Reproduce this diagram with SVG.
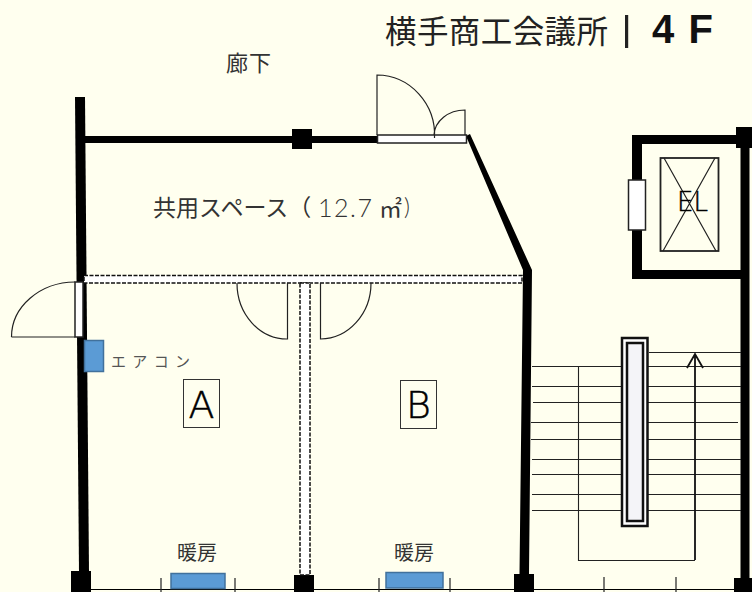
<svg xmlns="http://www.w3.org/2000/svg" width="752" height="592" viewBox="0 0 752 592">
<style>
.w{fill:#000}
.thin{fill:none;stroke:#222;stroke-width:1.2}
.tread{stroke:#222;stroke-width:1.1;fill:none}
.door{fill:#fff;stroke:#222;stroke-width:1.5}
.dash{fill:#fff;stroke:#111;stroke-width:1.5;stroke-dasharray:4 1.5}
.ac{fill:#5b9bd5;stroke:#41719c;stroke-width:1.5}
text{font-family:"Noto Sans CJK JP","Liberation Sans",sans-serif;fill:#333}
.letter{font-family:"DejaVu Sans",sans-serif;font-weight:200;fill:#000;stroke:#000;stroke-width:.5}
.num{font-family:"Lato","Noto Sans",sans-serif;font-weight:300}
</style>
<rect width="752" height="592" fill="#ffffef"/>
<g id="walls">
<path class="w" d="M75 97H85L89 572H79Z"/>
<rect class="w" x="85" y="136" width="293" height="7"/>
<rect class="w" x="292" y="129" width="20" height="20"/>
<path class="w" d="M466 136L470 134L532 270L529 574H519.500L523 270Z"/>
<path class="w" d="M632 135H741V144H642V270H741V279H632Z"/>
<rect class="w" x="740.500" y="135" width="9" height="445"/>
<rect class="w" x="736" y="127" width="16" height="21"/>
<rect class="w" x="71" y="571" width="20" height="21"/>
<rect class="w" x="294" y="575" width="20" height="17"/>
<rect class="w" x="514" y="574" width="20" height="18"/>
<rect class="w" x="734" y="578" width="18" height="14"/>
<path d="M90 589.500H752" stroke="#000" stroke-width="1" fill="none"/>
<path class="thin" d="M161 578V592M235 578V592M379 578V592M450 578V592M604 577V592M676 577V592"/>
</g>
<g id="partitions">
<rect class="dash" x="84" y="275.500" width="438" height="7.500"/>
<rect class="dash" x="300" y="283" width="10" height="292"/>
</g>
<g id="doors">
<rect class="door" x="377.500" y="135" width="89" height="8"/>
<path class="thin" d="M377 135V75A58 60 0 0 1 434.500 138M465 135V110A31 26 0 0 0 434 135"/>
<rect class="door" x="75" y="282" width="8" height="55"/>
<path class="thin" d="M75 337H11.500M11.500 337A64 55 0 0 1 75 282"/>
<path class="thin" d="M237 283A50 56 0 0 0 287.500 339V283M371 283A51 56 0 0 1 320.500 339V283"/>
<rect class="door" x="628.500" y="180" width="17" height="50"/>
</g>
<g id="elevator">
<rect x="660.500" y="158" width="58" height="93" fill="none" stroke="#222" stroke-width="1.800"/>
<path class="thin" d="M664 158L716 251M715 158L663 251"/>
<text class="letter" x="677" y="211" font-size="26" textLength="31" lengthAdjust="spacingAndGlyphs">EL</text>
</g>
<g id="stairs">
<path class="tread" d="M532 366.500H624M532 386.500H624M533 402.500H624M531 422.500H624M531 439.500H624M532 459.500H624M532 474.500H624M532 494.500H624M532 510.500H624"/>
<path class="tread" d="M649 352.500H741M645 366.500H741M645 386.500H741M645 402.500H741M645 422.500H738M645 439.500H741M645 459.500H741M645 474.500H741M645 494.500H741M645 510.500H741"/>
<path class="tread" d="M578.500 366V560.500H695"/>
<rect x="622" y="338" width="25.500" height="188" fill="#fff" stroke="#111" stroke-width="2.500"/>
<rect x="627" y="343" width="16" height="178" fill="#f4f4f8" stroke="#111" stroke-width="2.500"/>
<path d="M695 560V355M687 368L695 354L703 368" fill="none" stroke="#111" stroke-width="1.800"/>
</g>
<g id="aircon">
<rect class="ac" x="84.500" y="340.500" width="19" height="31"/>
<text x="111" y="367" font-size="15" textLength="79" style="fill:#555">エアコン</text>
</g>
<g id="heater-a">
<rect class="ac" x="171" y="573.500" width="54" height="15"/>
<text x="177" y="560" font-size="20">暖房</text>
</g>
<g id="heater-b">
<rect class="ac" x="386" y="572.500" width="57" height="15.500"/>
<text x="394" y="560" font-size="20">暖房</text>
</g>
<g id="room-a">
<rect x="183.500" y="379.500" width="36" height="48" fill="none" stroke="#333" stroke-width="1"/>
<text class="letter" x="201.500" y="418" font-size="38" text-anchor="middle">A</text>
</g>
<g id="room-b">
<rect x="400.500" y="380.500" width="36" height="48" fill="none" stroke="#333" stroke-width="1"/>
<text class="letter" x="418.500" y="418" font-size="38" text-anchor="middle">B</text>
</g>
<g id="labels">
<text x="226" y="71" font-size="22" textLength="45">廊下</text>
<text x="153" y="216" font-size="23">共用スペース（</text>
<text class="num" x="318" y="217" font-size="25" textLength="54">12.7</text>
<text x="379" y="217" font-size="23">㎡</text>
<text class="num" x="404" y="215" font-size="23">)</text>
<text x="385" y="43" font-size="31.500" textLength="223" style="fill:#222">横手商工会議所</text>
<rect x="625" y="15" width="3.200" height="33" fill="#222"/>
<text x="652" y="43" font-size="40" textLength="61" style="font-family:'Liberation Sans',sans-serif;font-weight:700;fill:#111">4 F</text>
</g>
</svg>
